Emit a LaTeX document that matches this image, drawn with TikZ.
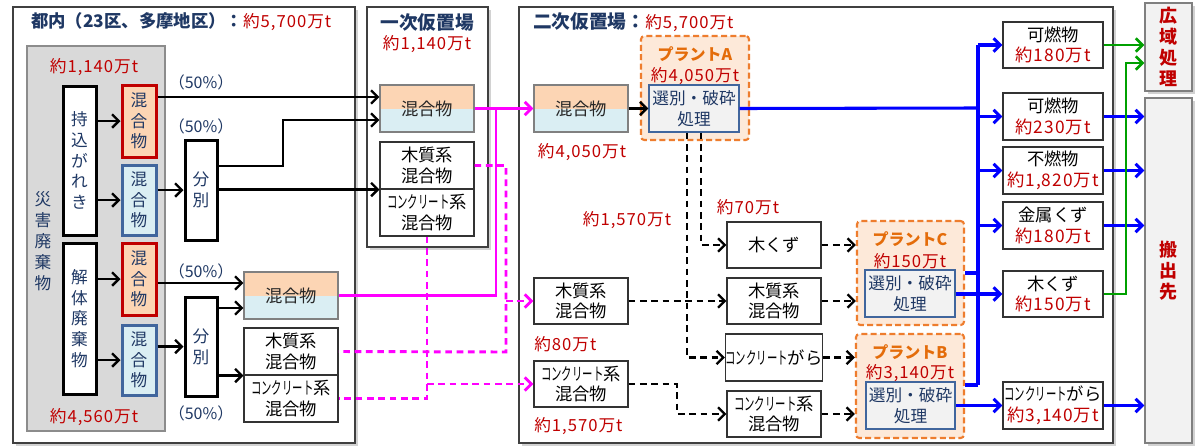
\documentclass[tikz,border=0pt]{standalone}
\usepackage{fontspec}
\setmainfont{Noto Sans CJK JP}
\newfontfamily\numf[LetterSpace=6]{Noto Sans CJK JP}
\newfontfamily\condf[FakeStretch=0.6]{Noto Sans CJK JP}
\usetikzlibrary{arrows.meta,shadows,calc}
\definecolor{navyc}{HTML}{1F3864}
\definecolor{dred}{HTML}{C00000}
\definecolor{peach}{HTML}{FCD5B4}
\definecolor{lblue}{HTML}{DAEEF3}
\definecolor{sblue}{HTML}{41669D}
\definecolor{orgc}{HTML}{EE7D2E}
\definecolor{lorg}{HTML}{FDE9D9}
\definecolor{igray}{HTML}{F2F2F2}
\definecolor{gboxc}{HTML}{D9D9D9}
\definecolor{magc}{HTML}{FF00FF}
\definecolor{blc}{HTML}{0000FF}
\definecolor{grc}{HTML}{00A000}
\definecolor{porg}{HTML}{E46C0A}
\newcommand\mybox[7]{\node[#1,minimum width={(#5-#3)*0.75pt},minimum height={(#6-#4)*0.75pt}] (#2) at ({(#3+#5)/2},{(#4+#6)/2}) {#7};}
\newcommand\kon{{\condf コンクリート}}
\tikzset{
  txt/.style={font=\fontsize{13}{15.5}\selectfont, align=center, inner sep=0pt},
  vtxt/.style={font=\fontsize{12.5}{15.5}\selectfont, text=navyc, align=center, inner sep=0pt},
  thickbox/.style={draw=black, line width=2.25pt, fill=white, vtxt},
  redbox/.style={draw=dred, line width=2.25pt, fill=peach, vtxt},
  bluebox/.style={draw=sblue, line width=2.25pt, fill=lblue, vtxt},
  wbox/.style={draw=black!80, line width=0.8pt, fill=white, txt},
  mixbox/.style={draw=black!50, line width=0.8pt, fill=lblue, txt, text=black!85,
    path picture={\fill[peach] (path picture bounding box.north west) rectangle (path picture bounding box.east);}},
  plantbox/.style={draw=orgc, line width=1.6pt, dash pattern=on 4.5pt off 2.5pt, fill=lorg, rounded corners=2.5pt},
  innerbox/.style={draw=sblue, line width=1pt, fill=igray, font=\fontsize{12.5}{15.5}\selectfont, align=center, inner sep=0pt, text=navyc},
  framebox/.style={draw=black!75, line width=1pt, fill=white, drop shadow={shadow xshift=2.5pt, shadow yshift=-2.5pt, fill=black!35}},
  graybox/.style={draw=black!45, line width=0.8pt, fill=gboxc},
  sidebox/.style={draw=black!50, line width=1pt, fill=igray, drop shadow={shadow xshift=2.5pt, shadow yshift=-2.5pt, fill=black!35},
    font=\fontsize{13.5}{15.75}\selectfont\bfseries, text=dred, align=center, inner sep=0pt},
  lbl/.style={font=\numf\fontsize{12.5}{15}\selectfont, text=dred, inner sep=0pt},
  pct/.style={font=\fontsize{12}{14}\selectfont, text=navyc, inner sep=0pt},
  ttl/.style={font=\fontsize{14}{16}\selectfont\bfseries, text=navyc, inner sep=0pt},
  ptitle/.style={font=\fontsize{12}{14}\selectfont\bfseries, text=porg, inner sep=0pt},
  arr/.style={-{Straight Barb[length=5pt,width=10pt]}},
  blk/.style={draw=black, line width=1.8pt},
  blkd/.style={blk, dash pattern=on 5pt off 3.5pt},
  magl/.style={draw=magc, line width=2.2pt},
  magd/.style={magl, dash pattern=on 5pt off 3.5pt},
  bll/.style={draw=blc, line width=2.3pt},
  grl/.style={draw=grc, line width=2pt},
}
\begin{document}
\begin{tikzpicture}[x=0.75pt,y=-0.75pt]
\useasboundingbox (0,0) rectangle (1200,447);
\fill[white] (0,0) rectangle (1200,447);
% ---------- frames ----------
\mybox{framebox}{F1}{13}{7}{355}{443}{}
\mybox{framebox}{F2}{367}{7}{488}{247}{}
\mybox{framebox}{F3}{519}{7}{1113}{443}{}
\mybox{sidebox}{kouiki}{1145}{3}{1192}{91}{広\\域\\処\\理}
\mybox{sidebox}{hansh}{1145}{98}{1192}{443}{搬\\出\\先}
% titles
\node[ttl, anchor=west, font=\fontsize{13}{16}\selectfont\bfseries] (t1) at (31,22) {都内（23区、多摩地区）：{\mdseries\numf\fontsize{12.5}{15}\selectfont\color{dred}約5,700万t}};
\node[ttl] (t2) at (427,22) {一次仮置場};
\node[lbl] (t2b) at (427,44) {約1,140万t};
\node[ttl, anchor=west] (t3) at (533,22) {二次仮置場：{\mdseries\numf\fontsize{12.5}{15}\selectfont\color{dred}約5,700万t}};
% ---------- left area ----------
\mybox{graybox}{G}{27}{46}{165}{431}{}
\node[lbl] (l1) at (94,67) {約1,140万t};
\node[lbl] (l2) at (94,417) {約4,560万t};
\node[vtxt, font=\fontsize{12.5}{15.75}\selectfont] (dis) at (43,241) {災\\害\\廃\\棄\\物};
\mybox{thickbox}{carry}{63}{86}{96}{235}{持\\込\\が\\れ\\き}
\mybox{thickbox}{demo}{63}{243}{96}{394}{解\\体\\廃\\棄\\物}
\mybox{redbox}{red1}{122}{85}{156}{157}{混\\合\\物}
\mybox{bluebox}{blue1}{122}{165}{156}{235}{混\\合\\物}
\mybox{redbox}{red2}{122}{243}{156}{315}{混\\合\\物}
\mybox{bluebox}{blue2}{122}{325}{156}{395}{混\\合\\物}
\mybox{thickbox}{sort1}{185}{140}{217}{240}{分\\別}
\mybox{thickbox}{sort2}{185}{297}{217}{396}{分\\別}
\node[pct] (p1) at (201,82) {（50\%）};
\node[pct] (p2) at (201,126) {（50\%）};
\node[pct] (p3) at (201,271) {（50\%）};
\node[pct] (p4) at (201,413) {（50\%）};
\mybox{mixbox}{tmix}{244}{272}{338}{319}{混合物}
\mybox{wbox}{twood}{244}{328}{338}{375}{木質系\\混合物}
\mybox{wbox}{tconc}{244}{375}{338}{422}{\kon 系\\混合物}
% ---------- primary ----------
\mybox{mixbox}{pmix}{380}{85}{474}{132}{混合物}
\mybox{wbox}{pwood}{380}{142}{474}{189}{木質系\\混合物}
\mybox{wbox}{pconc}{380}{189}{474}{236}{\kon 系\\混合物}
% ---------- secondary ----------
\mybox{mixbox}{smix}{534}{85}{628}{132}{混合物}
\node[lbl] (l3) at (582,152) {約4,050万t};
\mybox{wbox}{swood}{534}{278}{628}{324}{木質系\\混合物}
\node[lbl, anchor=west] (l4) at (534,344) {約80万t};
\mybox{wbox}{sconc}{534}{361}{628}{407}{\kon 系\\混合物}
\node[lbl, anchor=west] (l5) at (534,426) {約1,570万t};
\node[lbl] (l6) at (627,220) {約1,570万t};
\node[lbl] (l7) at (748,207) {約70万t};
\mybox{plantbox}{pA}{641}{36}{749}{140}{}
\node[ptitle] (pAt) at (695,54) {プラントA};
\node[lbl] (pAl) at (695,76) {約4,050万t};
\mybox{innerbox}{ainner}{649}{85}{739}{132}{選別・破砕\\処理}
\mybox{wbox}{mchip}{727}{222}{821}{268}{木くず}
\mybox{wbox}{mwood}{727}{278}{821}{324}{木質系\\混合物}
\mybox{wbox}{mconcg}{727}{334}{821}{381}{\kon がら}
\mybox{wbox}{mconc}{727}{391}{821}{437}{\kon 系\\混合物}
\mybox{plantbox}{pC}{857}{221}{964}{325}{}
\node[ptitle] (pCt) at (910,239) {プラントC};
\node[lbl] (pCl) at (910,261) {約150万t};
\mybox{innerbox}{cinner}{865}{270}{955}{317}{選別・破砕\\処理}
\mybox{plantbox}{pB}{856}{334}{964}{438}{}
\node[ptitle] (pBt) at (910,352) {プラントB};
\node[lbl] (pBl) at (910,373) {約3,140万t};
\mybox{innerbox}{binner}{866}{382}{955}{429}{選別・破砕\\処理}
% right column
\mybox{wbox}{r1}{1003}{22}{1103}{68}{可燃物\\{\numf\color{dred}約180万t}}
\mybox{wbox}{r2}{1003}{93}{1103}{140}{可燃物\\{\numf\color{dred}約230万t}}
\mybox{wbox}{r3}{1003}{147}{1103}{194}{不燃物\\{\numf\color{dred}約1,820万t}}
\mybox{wbox}{r4}{1003}{202}{1103}{249}{金属くず\\{\numf\color{dred}約180万t}}
\mybox{wbox}{r5}{1003}{271}{1103}{317}{木くず\\{\numf\color{dred}約150万t}}
\mybox{wbox}{r6}{1003}{382}{1103}{429}{\kon がら\\{\numf\color{dred}約3,140万t}}
% ---------- connectors: left ----------
\draw[blk,arr] (carry.east |- red1.west) -- (red1.west);
\draw[blk,arr] (carry.east |- blue1.west) -- (blue1.west);
\draw[blk,arr] (demo.east |- red2.west) -- (red2.west);
\draw[blk,arr] (demo.east |- blue2.west) -- (blue2.west);
\draw[blk,arr] (blue1.east |- sort1.west) -- (sort1.west);
\draw[blk,arr] (blue2.east |- sort2.west) -- (sort2.west);
\draw[blk,arr] (red1.east |- 0,97) -- (pmix.west |- 0,97);
\draw[blk,arr] (sort1.east |- 0,166) -- (283,166) -- (283,120) -- (pmix.west |- 0,120);
\draw[blk,arr] (sort1.east |- pwood.south west) -- (pwood.south west);
\draw[blk,arr] (red2.east |- 0,283) -- (tmix.west |- 0,283);
\draw[blk,arr] (sort2.east |- 0,308) -- (tmix.west |- 0,308);
\draw[blk,arr] (sort2.east |- twood.south west) -- (twood.south west);
% magenta
\draw[magl,arr] (pmix.east) -- (smix.west);
\draw[magl] (tmix.east) -| (496,108);
\draw[magd] (pwood.east) -| (506,352) -- (twood.east);
\draw[magd,arr] (swood.west -| 506,0) -- (swood.west);
\draw[magd] (pconc.south) |- (tconc.east);
\draw[magd,arr] (pconc.south |- sconc.west) -- (sconc.west);
% black in secondary
\draw[blk,arr] (smix.east) -- (ainner.west);
\draw[blkd,arr] (ainner.south -| 687,0) |- (mconcg.west);
\draw[blkd,arr] (ainner.south -| 701,0) |- (mchip.west);
\draw[blkd,arr] (swood.east) -- (mwood.west);
\draw[blkd,arr] (sconc.east) -| (677,414) -- (mconc.west);
\draw[blkd,arr] (mchip.east) -- (mchip.east -| pC.west);
\draw[blkd,arr] (mwood.east) -- (mwood.east -| pC.west);
\draw[blkd,arr] (mconcg.east) -- (mconcg.east -| pB.west);
\draw[blkd,arr] (mconc.east) -- (mconc.east -| pB.west);
% blue
\draw[bll] (ainner.east) -- (978,108);
\draw[bll] (r1.west -| 978,0) -- (978,385);
\draw[bll] (pC.east |- 0,273) -- (978,273);
\draw[bll] (pB.east |- 0,385) -- (978,385);
\draw[bll,arr] (r1.west -| 978,0) -- (r1.west);
\draw[bll,arr] (r2.west -| 978,0) -- (r2.west);
\draw[bll,arr] (r3.west -| 978,0) -- (r3.west);
\draw[bll,arr] (r4.west -| 978,0) -- (r4.west);
\draw[bll,arr] (cinner.east |- r5.west) -- (r5.west);
\draw[bll,arr] (binner.east |- r6.west) -- (r6.west);
\draw[bll,arr] (r2.east) -- (r2.east -| hansh.west);
\draw[bll,arr] (r3.east) -- (r3.east -| hansh.west);
\draw[bll,arr] (r4.east) -- (r4.east -| hansh.west);
\draw[bll,arr] (r6.east) -- (r6.east -| hansh.west);
% green
\draw[grl,arr] (r1.east) -- (r1.east -| kouiki.west);
\draw[grl,arr] (r5.east) -| (1126,63) -- (kouiki.west |- 0,63);
\end{tikzpicture}
\end{document}
